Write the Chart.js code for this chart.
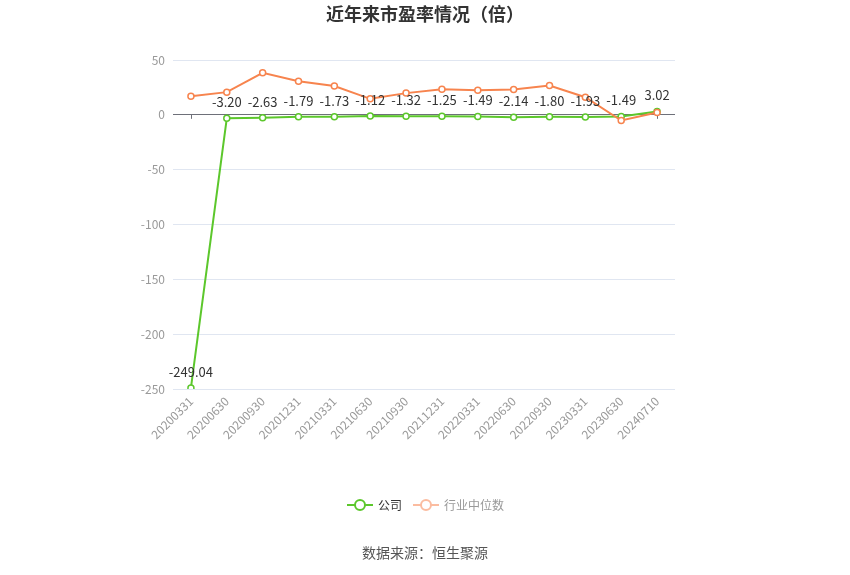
<!DOCTYPE html>
<html>
<head>
<meta charset="utf-8">
<script src="https://cdn.jsdelivr.net/npm/chart.js@4/dist/chart.umd.min.js"></script>
<style>
  html, body { margin: 0; padding: 0; background: #ffffff; }
  #wrap { position: relative; width: 850px; height: 575px; }
</style>
</head>
<body>
<div id="wrap"><canvas id="c" width="850" height="575"></canvas></div>
<script>
const categories = ["20200331","20200630","20200930","20201231","20210331","20210630","20210930","20211231","20220331","20220630","20220930","20230331","20230630","20240710"];
const companyPE = [-249.04, -3.20, -2.63, -1.79, -1.73, -1.12, -1.32, -1.25, -1.49, -2.14, -1.80, -1.93, -1.49, 3.02];
const industryPE = [16.9, 20.7, 38.3, 30.7, 26.2, 14.6, 19.8, 23.4, 22.5, 23.1, 26.7, 16.1, -5.2, 2.1];
const yTicks = { min: -250, max: 50, step: 50 };
const titleText = "近年来市盈率情况（倍）";
const seriesNames = ["公司", "行业中位数"];
const sourceText = "数据来源：恒生聚源";

const GREEN = "#5cc72c";
const ORANGE = "#f7844e";
const FONT = '"Noto Sans CJK SC", "Noto Sans", sans-serif';

const extrasPlugin = {
  id: "extras",
  afterDatasetsDraw(chart) {
    const ctx = chart.ctx;
    // data labels for company series
    const meta = chart.getDatasetMeta(0);
    ctx.save();
    ctx.font = "13px " + FONT;
    ctx.fillStyle = "#333333";
    ctx.textAlign = "center";
    ctx.textBaseline = "middle";
    meta.data.forEach((pt, i) => {
      ctx.fillText(companyPE[i].toFixed(2), pt.x, pt.y - 16);
    });
    ctx.restore();
  },
  beforeDatasetsDraw(chart) {
    // small ticks under the zero line at each category
    const ctx = chart.ctx;
    const x = chart.scales.x, y = chart.scales.y;
    const y0 = y.getPixelForValue(0);
    ctx.save();
    ctx.strokeStyle = "#6e7079";
    ctx.lineWidth = 1;
    categories.forEach((c, i) => {
      const px = Math.round(x.getPixelForValue(i)) + 0.5;
      ctx.beginPath();
      ctx.moveTo(px, y0);
      ctx.lineTo(px, y0 + 4);
      ctx.stroke();
    });
    ctx.restore();
  },
  afterDraw(chart) {
    const ctx = chart.ctx;
    ctx.save();
    // title
    ctx.font = "bold 18px " + FONT;
    ctx.fillStyle = "#333333";
    ctx.textAlign = "center";
    ctx.textBaseline = "middle";
    ctx.fillText(titleText, 425, 14);
    // legend
    const ly = 505;
    const items = [
      { x: 347, color: GREEN, text: seriesNames[0], textColor: "#333333" },
      { x: 413, color: "#fbbca0", text: seriesNames[1], textColor: "#999999" }
    ];
    items.forEach(it => {
      ctx.strokeStyle = it.color;
      ctx.lineWidth = 2;
      ctx.beginPath();
      ctx.moveTo(it.x, ly);
      ctx.lineTo(it.x + 26, ly);
      ctx.stroke();
      ctx.beginPath();
      ctx.arc(it.x + 13, ly, 5, 0, Math.PI * 2);
      ctx.fillStyle = "#ffffff";
      ctx.fill();
      ctx.lineWidth = 2;
      ctx.stroke();
      ctx.font = "12px " + FONT;
      ctx.fillStyle = it.textColor;
      ctx.textAlign = "left";
      ctx.textBaseline = "middle";
      ctx.fillText(it.text, it.x + 31, ly);
    });
    // source
    ctx.font = "14px " + FONT;
    ctx.fillStyle = "#555555";
    ctx.textAlign = "center";
    ctx.textBaseline = "middle";
    ctx.fillText(sourceText, 425, 553);
    ctx.restore();
  }
};

new Chart(document.getElementById("c"), {
  type: "line",
  data: {
    labels: categories,
    datasets: [
      {
        label: seriesNames[0],
        data: companyPE,
        borderColor: GREEN,
        backgroundColor: "#ffffff",
        borderWidth: 2,
        pointRadius: 3,
        pointBorderWidth: 1.5,
        pointBackgroundColor: "#ffffff",
        pointBorderColor: GREEN,
        tension: 0,
        order: 1
      },
      {
        label: seriesNames[1],
        data: industryPE,
        borderColor: ORANGE,
        backgroundColor: "#ffffff",
        borderWidth: 2,
        pointRadius: 3,
        pointBorderWidth: 1.5,
        pointBackgroundColor: "#ffffff",
        pointBorderColor: ORANGE,
        tension: 0,
        order: 0
      }
    ]
  },
  options: {
    responsive: false,
    animation: false,
    devicePixelRatio: 1,
    layout: { padding: { left: 0, right: 175, top: 60, bottom: 0 } },
    plugins: {
      legend: { display: false },
      title: { display: false },
      tooltip: { enabled: false }
    },
    scales: {
      x: {
        type: "category",
        offset: true,
        grid: { display: false, drawTicks: false },
        border: { display: false },
        ticks: {
          color: "#999999",
          font: { size: 12, family: FONT },
          minRotation: 45,
          maxRotation: 45,
          autoSkip: false,
          padding: 5
        },
        afterFit(scale) { scale.height = 186; }
      },
      y: {
        min: yTicks.min,
        max: yTicks.max,
        ticks: {
          stepSize: yTicks.step,
          color: "#999999",
          font: { size: 12, family: FONT },
          padding: 8
        },
        grid: {
          drawTicks: false,
          color: ctx => (ctx.tick && ctx.tick.value === 0) ? "#6e7079" : "#e0e6f1",
          lineWidth: 1
        },
        border: { display: false },
        afterFit(scale) { scale.width = 173; }
      }
    }
  },
  plugins: [extrasPlugin]
});
</script>
</body>
</html>
